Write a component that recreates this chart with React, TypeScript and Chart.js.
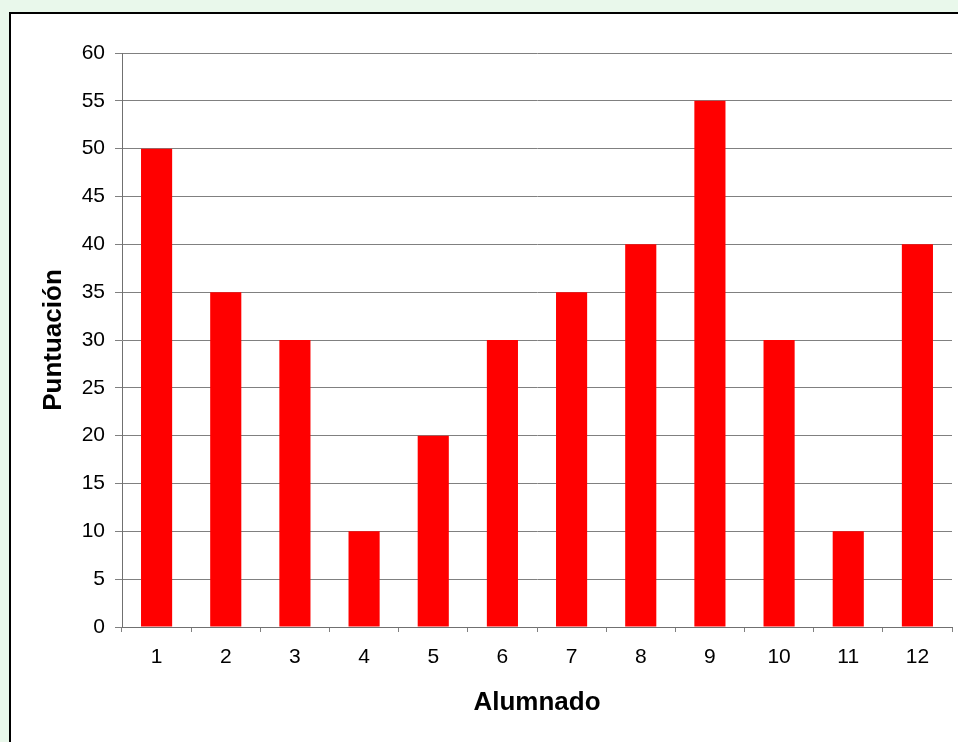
import React, { useEffect, useRef } from "react";
import { Chart, registerables } from "chart.js";

Chart.register(...registerables);

const categories: string[] = ["1", "2", "3", "4", "5", "6", "7", "8", "9", "10", "11", "12"];
const puntuacion: number[] = [50, 35, 30, 10, 20, 30, 35, 40, 55, 30, 10, 40];
const yTickMax = 60;
const yTickStep = 5;

const FONT = "'Liberation Sans', Arial, sans-serif";

export default function App() {
  const ref = useRef<HTMLCanvasElement | null>(null);

  useEffect(() => {
    if (!ref.current) return;
    const chart = new Chart(ref.current, {
      type: "bar",
      data: {
        labels: categories,
        datasets: [
          {
            label: "Puntuación",
            data: puntuacion,
            backgroundColor: "#FF0000",
            borderWidth: 0,
            barPercentage: 0.45,
            categoryPercentage: 1,
          },
        ],
      },
      options: {
        responsive: false,
        animation: false,
        devicePixelRatio: 1,
        layout: { padding: { top: 39, right: 6, left: 0, bottom: 0 } },
        plugins: {
          legend: { display: false },
          tooltip: { enabled: false },
        },
        scales: {
          x: {
            offset: true,
            grid: {
              display: true,
              offset: true,
              drawOnChartArea: false,
              drawTicks: true,
              tickLength: 5,
              color: "#808080",
            },
            border: { display: true, color: "#707070", width: 1 },
            ticks: {
              color: "#000",
              padding: 13,
              font: { family: FONT, size: 21 },
              maxRotation: 0,
            },
            title: {
              display: true,
              text: "Alumnado",
              color: "#000",
              font: { family: FONT, size: 26, weight: "bold" },
              padding: { top: 0, bottom: 24 },
            },
            afterFit: (scale: any) => {
              scale.height = 115;
            },
          },
          y: {
            min: 0,
            max: yTickMax,
            grid: {
              color: "#808080",
              tickLength: 7,
              drawTicks: true,
            },
            border: { display: true, color: "#707070", width: 1 },
            ticks: {
              stepSize: yTickStep,
              color: "#000",
              padding: 10,
              font: { family: FONT, size: 21 },
            },
            title: {
              display: true,
              text: "Puntuación",
              color: "#000",
              font: { family: FONT, size: 26, weight: "bold" },
              padding: { top: 27, bottom: 0 },
            },
            afterFit: (scale: any) => {
              scale.width = 111;
            },
          },
        },
      },
    });
    return () => chart.destroy();
  }, []);

  return (
    <div
      style={{
        position: "fixed",
        left: 0,
        top: 0,
        width: 958,
        height: 742,
        background: "rgb(233,248,235)",
        overflow: "hidden",
      }}
    >
      <div
        style={{
          position: "absolute",
          left: 9,
          top: 12,
          width: 949,
          height: 730,
          background: "#fff",
          borderTop: "2px solid #000",
          borderLeft: "2px solid #000",
          boxSizing: "border-box",
        }}
      >
        <canvas ref={ref} width={947} height={728} style={{ display: "block", width: 947, height: 728 }} />
      </div>
    </div>
  );
}
